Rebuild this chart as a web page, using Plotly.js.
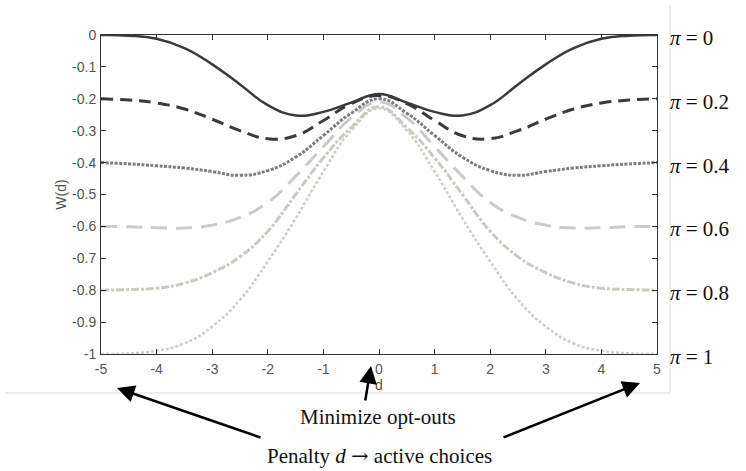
<!DOCTYPE html>
<html>
<head>
<meta charset="utf-8">
<script src="https://cdn.plot.ly/plotly-3.0.1.min.js"></script>
<style>html,body{margin:0;padding:0;background:#fff;}#chart{width:746px;height:471px;}</style>
</head>
<body>
<div id="chart"></div>
<script>
// Penalty d (x axis)
const dVals = [-5, -4.5, -4, -3.5, -3, -2.5, -2, -1.5, -1, -0.5, 0, 0.5, 1, 1.5, 2, 2.5, 3, 3.5, 4, 4.5, 5];

// W(d) for each opt-out share pi
const wPi0  = [0, -0.002, -0.012, -0.041, -0.092, -0.155, -0.220, -0.252, -0.241, -0.212, -0.185, -0.212, -0.241, -0.252, -0.220, -0.155, -0.092, -0.041, -0.012, -0.002, 0];
const wPi02 = [-0.200, -0.204, -0.213, -0.232, -0.264, -0.300, -0.325, -0.316, -0.268, -0.215, -0.190, -0.215, -0.268, -0.316, -0.325, -0.300, -0.264, -0.232, -0.213, -0.204, -0.200];
const wPi04 = [-0.400, -0.404, -0.410, -0.417, -0.428, -0.440, -0.425, -0.383, -0.315, -0.245, -0.200, -0.245, -0.315, -0.383, -0.425, -0.440, -0.428, -0.417, -0.410, -0.404, -0.400];
const wPi06 = [-0.600, -0.601, -0.604, -0.605, -0.596, -0.572, -0.525, -0.443, -0.350, -0.260, -0.210, -0.260, -0.350, -0.443, -0.525, -0.572, -0.596, -0.605, -0.604, -0.601, -0.600];
const wPi08 = [-0.800, -0.798, -0.794, -0.778, -0.745, -0.695, -0.615, -0.500, -0.385, -0.290, -0.225, -0.290, -0.385, -0.500, -0.615, -0.695, -0.745, -0.778, -0.794, -0.798, -0.800];
const wPi1  = [-1.000, -0.998, -0.990, -0.967, -0.914, -0.830, -0.710, -0.575, -0.428, -0.300, -0.230, -0.300, -0.428, -0.575, -0.710, -0.830, -0.914, -0.967, -0.990, -0.998, -1.000];

const piValues = [0, 0.2, 0.4, 0.6, 0.8, 1];
const piLabels = ["0", "0.2", "0.4", "0.6", "0.8", "1"];

const xTickVals = [-5, -4, -3, -2, -1, 0, 1, 2, 3, 4, 5];
const xTickText = ["-5", "-4", "-3", "-2", "-1", "0", "1", "2", "3", "4", "5"];
const yTickVals = [0, -0.1, -0.2, -0.3, -0.4, -0.5, -0.6, -0.7, -0.8, -0.9, -1];
const yTickText = ["0", "-0.1", "-0.2", "-0.3", "-0.4", "-0.5", "-0.6", "-0.7", "-0.8", "-0.9", "-1"];

const seriesY = [wPi0, wPi02, wPi04, wPi06, wPi08, wPi1];
const styles = [
  {color: "#3a3a3a", width: 2.5, dash: "solid"},
  {color: "#3a3a3a", width: 3,   dash: "12px,7px"},
  {color: "#7c7c7c", width: 3,   dash: "3px,1.5px"},
  {color: "#cbcbcb", width: 3,   dash: "16px,9px"},
  {color: "#cacac0", width: 3,   dash: "8px,2px,3px,2px"},
  {color: "#cfcfc6", width: 2.5, dash: "3px,2px"}
];

const traces = [];
for (let i = seriesY.length - 1; i >= 0; i--) {
  traces.push({
    x: dVals, y: seriesY[i], type: "scatter", mode: "lines",
    line: {color: styles[i].color, width: styles[i].width, dash: styles[i].dash, shape: "spline", smoothing: 1.3},
    cliponaxis: false, hoverinfo: "skip", showlegend: false
  });
}

const serif = "Liberation Serif, DejaVu Serif, serif";
const sans = "Liberation Sans, Arial, sans-serif";
const sp = "\u2005";
const annotations = piValues.map((p, i) => ({
  xref: "paper", yref: "y", x: 1.0198, y: -p, yshift: -3,
  xanchor: "left", yanchor: "middle", showarrow: false,
  text: "<i>π</i>" + sp + "=" + sp + piLabels[i],
  font: {family: serif, size: 21, color: "#111"}
}));

// plot area: px 101..657, py 35..354
const px = v => (v - 101) / 556;
const py = v => (354 - v) / 319;
function arrow(tailX, tailY, headX, headY) {
  return {xref: "paper", yref: "paper", x: px(headX), y: py(headY),
          ax: tailX - headX, ay: tailY - headY, axref: "pixel", ayref: "pixel",
          showarrow: true, arrowhead: 2, arrowsize: 1.4, arrowwidth: 2.5, arrowcolor: "#000", text: ""};
}
annotations.push(arrow(262, 438, 117, 388));
annotations.push(arrow(502, 438, 640, 383));
annotations.push(arrow(365, 402, 371, 366));
annotations.push({xref: "paper", yref: "paper", x: px(378), y: py(417), xanchor: "center", yanchor: "middle",
  showarrow: false, text: "Minimize opt-outs", font: {family: serif, size: 21, color: "#111"}});
annotations.push({xref: "paper", yref: "paper", x: px(379), y: py(456), xanchor: "center", yanchor: "middle",
  showarrow: false, text: "Penalty" + sp + "<i>d</i>" + sp + "<span style='font-family:DejaVu Serif'>→</span>" + sp + "active choices",
  font: {family: serif, size: 21, color: "#111"}});

const layout = {
  width: 746, height: 471,
  font: {family: sans, size: 14, color: "#555"},
  margin: {l: 101, r: 89, t: 35, b: 117, pad: 0},
  paper_bgcolor: "#fff", plot_bgcolor: "#fff",
  showlegend: false,
  xaxis: {range: [-5, 5], tickmode: "array", tickvals: xTickVals, ticktext: xTickText, ticks: "inside", ticklen: 5,
          tickcolor: "#333", showline: true, linecolor: "#333", linewidth: 1, mirror: "ticks",
          showgrid: false, zeroline: false, ticklabelstandoff: 2,
          tickfont: {family: sans, size: 14, color: "#555"},
          title: {text: "d", font: {family: sans, size: 14, color: "#555"}, standoff: 1}},
  yaxis: {range: [-1, 0], tickmode: "array", tickvals: yTickVals, ticktext: yTickText, ticks: "inside", ticklen: 5,
          tickcolor: "#333", showline: true, linecolor: "#333", linewidth: 1, mirror: "ticks",
          showgrid: false, zeroline: false, ticklabelstandoff: 1,
          tickfont: {family: sans, size: 14, color: "#555"},
          title: {text: "W(d)", font: {family: sans, size: 14, color: "#555"}, standoff: 2}},
  shapes: [
    {type: "line", xref: "paper", yref: "paper", x0: px(670), x1: px(670), y0: py(5), y1: py(393),
     line: {color: "#d8d8d8", width: 1}},
    {type: "line", xref: "paper", yref: "paper", x0: px(5), x1: px(670), y0: py(393), y1: py(393),
     line: {color: "#d8d8d8", width: 1}}
  ],
  annotations: annotations
};

Plotly.newPlot("chart", traces, layout, {staticPlot: true, displayModeBar: false});
</script>
</body>
</html>
